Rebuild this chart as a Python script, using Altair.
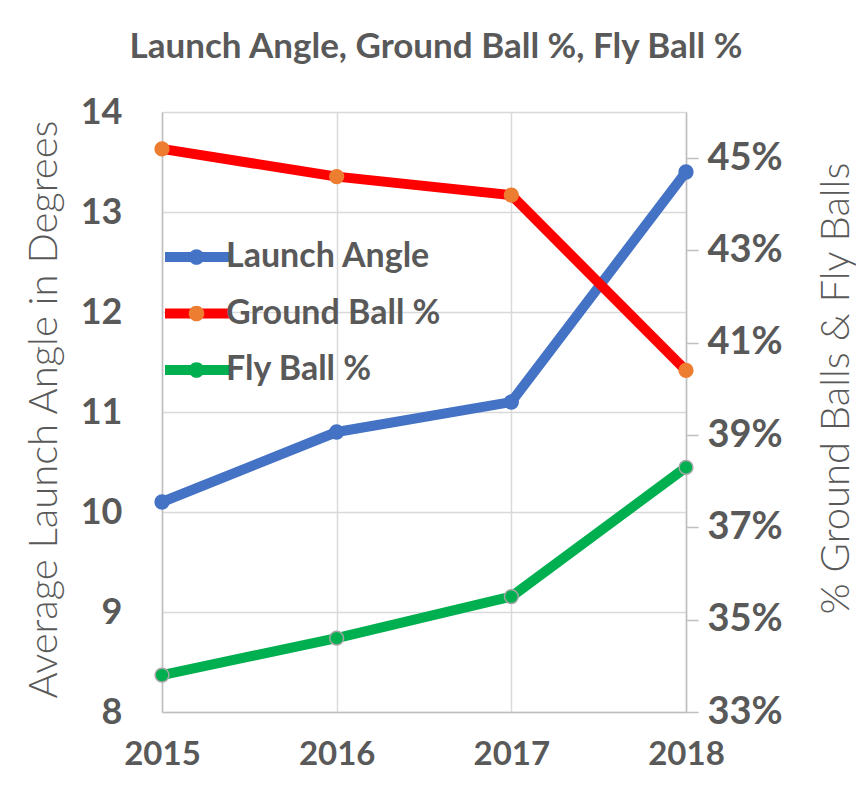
import altair as alt
import pandas as pd

years = [2015, 2016, 2017, 2018]
launch_angle = [10.1, 10.8, 11.1, 13.4]
ground_ball = [45.2, 44.6, 44.2, 40.4]
fly_ball = [33.8, 34.6, 35.5, 38.3]

series_names = ["Launch Angle", "Ground Ball %", "Fly Ball %"]
line_colors = ["#4472C4", "#FF0000", "#00B050"]
point_fills = ["#4472C4", "#ED7D31", "#00B050"]
point_strokes = ["#4472C4", "#ED7D31", "#A5A5A5"]

rows = []
for name, vals in zip(series_names, [launch_angle, ground_ball, fly_ball]):
    for y, v in zip(years, vals):
        rows.append({"year": y, "series": name, "pt": name, "value": v})
df = pd.DataFrame(rows)

TXT = "#595959"
GRID = "#D9D9D9"
AXL = "#BFBFBF"
FONT = "Lato"

line_path = "M-2.5,0 L2.5,0"
circle_path = "M0.6,0 A0.6,0.6 0 1,1 -0.6,0 A0.6,0.6 0 1,1 0.6,0 Z"

legend_common = dict(
    orient="none", legendX=17.5, padding=0, title=None,
    symbolSize=676, labelOffset=10.5, labelLimit=500,
    labelFont=FONT, labelFontSize=34, labelFontWeight="bold",
)

x_enc = alt.X(
    "year:O", scale=alt.Scale(padding=0),
    axis=alt.Axis(title=None, labelAngle=0, labelFont=FONT, labelFontSize=33,
                  labelFontWeight="bold", labelColor=TXT, labelPadding=26,
                  ticks=False, domainColor=AXL, domainWidth=1.5,
                  grid=True, gridColor=GRID, gridWidth=1.5),
)

color_enc = alt.Color(
    "series:N",
    scale=alt.Scale(domain=series_names, range=line_colors),
    legend=alt.Legend(symbolType=line_path, labelColor=TXT, legendY=127,
                      rowPadding=16.5, symbolStrokeWidth=10, **legend_common),
)
fill_enc = alt.Fill(
    "pt:N", sort=series_names,
    scale=alt.Scale(range=point_fills),
    legend=alt.Legend(symbolType=circle_path, labelExpr="''", legendY=128,
                      rowPadding=22.5, symbolStrokeWidth=0, symbolOpacity=1,
                      **legend_common),
)
stroke_enc = alt.Stroke(
    "pt:N", sort=series_names, scale=alt.Scale(range=point_strokes), legend=None
)

base = alt.Chart(df)

y_left = alt.Y(
    "value:Q", scale=alt.Scale(domain=[8, 14], nice=False, zero=False),
    axis=alt.Axis(orient="left", values=[8, 9, 10, 11, 12, 13, 14],
                  title="Average Launch Angle in Degrees",
                  titleFont=FONT, titleFontWeight=300, titleFontSize=40,
                  titleColor=TXT, titleAngle=270, titleX=-118, titleY=297,
                  titleAlign="center", titleBaseline="middle",
                  labelFont=FONT, labelFontSize=36, labelFontWeight="bold",
                  labelColor=TXT, labelPadding=40, ticks=False,
                  domainColor=AXL, domainWidth=1.5,
                  grid=True, gridColor=GRID, gridWidth=1.5),
)
y_right = alt.Y(
    "value:Q", scale=alt.Scale(domain=[33, 46], nice=False, zero=False),
    axis=alt.Axis(orient="right", values=[33, 35, 37, 39, 41, 43, 45],
                  labelExpr="datum.value + '%'",
                  title="% Ground Balls & Fly Balls",
                  titleFont=FONT, titleFontWeight=300, titleFontSize=40,
                  titleColor=TXT, titleAngle=270, titleX=150, titleY=276,
                  titleAlign="center", titleBaseline="middle",
                  labelFont=FONT, labelFontSize=38, labelFontWeight="bold",
                  labelColor=TXT, labelPadding=9, ticks=True, tickSize=12,
                  tickColor=AXL, tickWidth=1.5,
                  domainColor=AXL, domainWidth=1.5, grid=False),
)

left_data = base.transform_filter(alt.datum.series == "Launch Angle")
right_data = base.transform_filter(alt.datum.series != "Launch Angle")

left = alt.layer(
    left_data.mark_line(strokeWidth=10, strokeJoin="round", strokeCap="round").encode(
        x=x_enc, y=y_left, color=color_enc),
    left_data.mark_point(filled=True, size=190, opacity=1, strokeWidth=1.5).encode(
        x=x_enc, y=y_left, fill=fill_enc, stroke=stroke_enc),
)
right = alt.layer(
    right_data.mark_line(strokeWidth=10, strokeJoin="round", strokeCap="round").encode(
        x=x_enc, y=y_right, color=color_enc),
    right_data.mark_point(filled=True, size=190, opacity=1, strokeWidth=1.5).encode(
        x=x_enc, y=y_right, fill=fill_enc, stroke=stroke_enc),
)

chart = alt.layer(left, right).resolve_scale(y="independent").properties(
    width=524, height=600,
    autosize=alt.AutoSizeParams(type="none"),
    padding={"left": 154, "top": 104, "right": 170, "bottom": 88},
    title=alt.TitleParams(
        "Launch Angle, Ground Ball %, Fly Ball %", font=FONT, fontSize=35,
        fontWeight="bold", color=TXT, anchor="middle", dx=12, offset=29,
    ),
).configure_view(stroke=None)

chart.save("out.html", embed_options={"renderer": "svg", "actions": False})
